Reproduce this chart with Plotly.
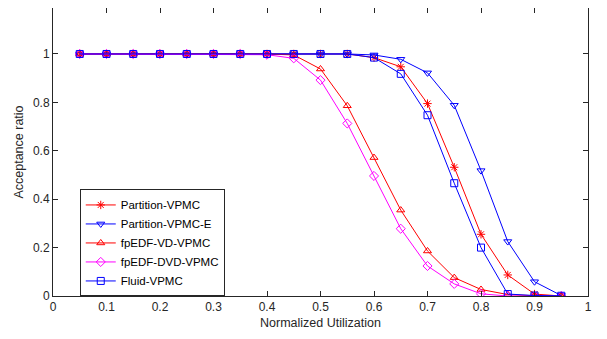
import plotly.graph_objects as go

x_util = [0.05, 0.10, 0.15, 0.20, 0.25, 0.30, 0.35, 0.40, 0.45, 0.50,
          0.55, 0.60, 0.65, 0.70, 0.75, 0.80, 0.85, 0.90, 0.95]

partition_vpmc = [1, 1, 1, 1, 1, 1, 1, 1, 1, 1,
                  1, 0.985, 0.947, 0.795, 0.532, 0.255, 0.087, 0.008, 0.0]
partition_vpmc_e = [1, 1, 1, 1, 1, 1, 1, 1, 1, 1,
                    1, 0.996, 0.978, 0.922, 0.788, 0.518, 0.225, 0.059, 0.002]
fpedf_vd_vpmc = [1, 1, 1, 1, 1, 1, 1, 1, 0.996, 0.938,
                 0.786, 0.572, 0.355, 0.186, 0.076, 0.027, 0.006, 0.001, 0.0]
fpedf_dvd_vpmc = [1, 1, 1, 1, 1, 1, 1, 0.997, 0.982, 0.892,
                  0.713, 0.496, 0.278, 0.124, 0.050, 0.009, 0.0, 0.0, 0.0]
fluid_vpmc = [1, 1, 1, 1, 1, 1, 1, 1, 1, 1,
              1, 0.985, 0.918, 0.747, 0.466, 0.200, 0.008, 0.002, 0.001]

series = [
    ("Partition-VPMC", partition_vpmc, "#ff0000", "asterisk-open"),
    ("Partition-VPMC-E", partition_vpmc_e, "#0000ff", "triangle-down-open"),
    ("fpEDF-VD-VPMC", fpedf_vd_vpmc, "#ff0000", "triangle-up-open"),
    ("fpEDF-DVD-VPMC", fpedf_dvd_vpmc, "#ff00ff", "diamond-open"),
    ("Fluid-VPMC", fluid_vpmc, "#0000ff", "square-open"),
]

x_ticks = [0, 0.1, 0.2, 0.3, 0.4, 0.5, 0.6, 0.7, 0.8, 0.9, 1]
x_tick_labels = ["0", "0.1", "0.2", "0.3", "0.4", "0.5", "0.6", "0.7", "0.8", "0.9", "1"]
y_ticks = [0, 0.2, 0.4, 0.6, 0.8, 1]
y_tick_labels = ["0", "0.2", "0.4", "0.6", "0.8", "1"]

fig = go.Figure()
for name, vals, color, sym in series:
    fig.add_trace(go.Scatter(
        x=x_util, y=vals, name=name, mode="lines+markers",
        line=dict(color=color, width=1),
        marker=dict(symbol=sym, size=7, color=color, line=dict(color=color, width=1)),
    ))

axis_common = dict(
    showline=True, linecolor="#262626", linewidth=1, mirror="ticks",
    ticks="inside", ticklen=5, tickcolor="#262626", showgrid=False, zeroline=False,
    automargin=False,
    tickfont=dict(family="Liberation Sans, Arial", size=12, color="#262626"),
)

# the page body has an 8px default margin, so the figure is 8px smaller and offset
fig.update_layout(
    width=599, height=331,
    margin=dict(l=45, r=19, t=0, b=43),
    paper_bgcolor="white", plot_bgcolor="white",
    font=dict(family="Liberation Sans, Arial", size=12, color="#262626"),
    xaxis=dict(range=[0, 1], tickvals=x_ticks, ticktext=x_tick_labels,
               title=dict(text="Normalized Utilization", font=dict(size=12.5), standoff=4),
               **axis_common),
    yaxis=dict(range=[0, 1.19], tickvals=y_ticks, ticktext=y_tick_labels,
               title=dict(text="Acceptance ratio", font=dict(size=12.5), standoff=6),
               **axis_common),
    legend=dict(x=0.05, y=0.37, xanchor="left", yanchor="top",
                bgcolor="white", bordercolor="#262626", borderwidth=1,
                font=dict(size=11.5, color="#000000"), tracegroupgap=0,
                itemwidth=30),
    showlegend=True,
)

fig.write_html("out.html")
